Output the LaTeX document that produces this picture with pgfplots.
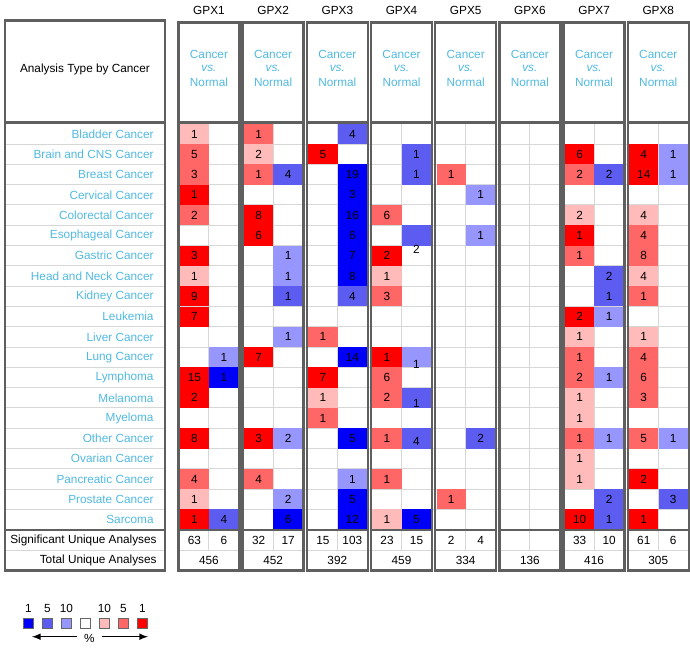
\documentclass[border=0pt]{standalone}
\usepackage{pgfplots}
\pgfplotsset{compat=1.18}
\usepackage{pgfplotstable}
\usepackage{fontspec}
\setmainfont{Liberation Sans}
\definecolor{cR3}{RGB}{255,0,0}
\definecolor{cR2}{RGB}{255,102,102}
\definecolor{cR1}{RGB}{255,186,186}
\definecolor{cB3}{RGB}{0,0,250}
\definecolor{cB2}{RGB}{92,92,240}
\definecolor{cB1}{RGB}{150,150,252}
\definecolor{cLab}{RGB}{80,185,225}
\definecolor{cGrid}{RGB}{215,215,215}
\definecolor{cBox}{RGB}{95,95,95}
\newcommand\fs{\fontsize{5.9}{7}\selectfont}
\pgfdeclareplotmark{cell}{\pgfpathrectangle{\pgfpoint{-7.35pt}{-5.05pt}}{\pgfpoint{14.7pt}{10.1pt}}\pgfusepathqfill}

% row: 1 Bladder ... 20 Sarcoma; side: 0 up (red), 1 down (blue)
\pgfplotstableread{
row side cls n dy
1 0 r1 1 0
2 0 r2 5 0
3 0 r2 3 0
4 0 r3 1 0
5 0 r2 2 0
7 0 r3 3 0
8 0 r1 1 0
9 0 r3 9 0
10 0 r3 7 0
13 0 r3 15 0
14 0 r3 2 0
16 0 r3 8 0
18 0 r2 4 0
19 0 r1 1 0
20 0 r3 1 0
12 1 b1 1 0
13 1 b3 1 0
20 1 b2 4 0
}\gA
\pgfplotstableread{
row side cls n dy
1 0 r2 1 0
2 0 r1 2 0
3 0 r2 1 0
5 0 r3 8 0
6 0 r3 6 0
12 0 r3 7 0
16 0 r3 3 0
18 0 r2 4 0
3 1 b2 4 0
7 1 b1 1 0
8 1 b1 1 0
9 1 b2 1 0
11 1 b1 1 0
16 1 b1 2 0
19 1 b1 2 0
20 1 b3 6 0
}\gB
\pgfplotstableread{
row side cls n dy
2 0 r3 5 0
11 0 r2 1 0
13 0 r3 7 0
14 0 r1 1 0
15 0 r2 1 0
1 1 b2 4 0
3 1 b3 19 0
4 1 b3 3 0
5 1 b3 16 0
6 1 b3 6 0
7 1 b3 7 0
8 1 b3 8 0
9 1 b2 4 0
12 1 b3 14 0
16 1 b3 5 0
18 1 b1 1 0
19 1 b3 5 0
20 1 b3 12 0
}\gC
\pgfplotstableread{
row side cls n dy
5 0 r2 6 0
7 0 r3 2 0
8 0 r1 1 0
9 0 r2 3 0
12 0 r3 1 0
13 0 r2 6 0
14 0 r2 2 0
16 0 r2 1 0
18 0 r2 1 0
20 0 r1 1 0
2 1 b2 1 0
3 1 b2 1 0
6 1 b2 2 14
12 1 b1 1 7.5
14 1 b2 1 5.5
16 1 b2 4 3.5
20 1 b3 5 0
}\gD
\pgfplotstableread{
row side cls n dy
3 0 r2 1 0
19 0 r2 1 0
4 1 b1 1 0
6 1 b1 1 0
16 1 b2 2 0
}\gE
\pgfplotstableread{
row side cls n dy
2 0 r3 6 0
3 0 r2 2 0
5 0 r1 2 0
6 0 r3 1 0
7 0 r2 1 0
10 0 r3 2 0
11 0 r1 1 0
12 0 r2 1 0
13 0 r2 2 0
14 0 r1 1 0
15 0 r1 1 0
16 0 r2 1 0
17 0 r1 1 0
18 0 r1 1 0
20 0 r3 10 0
3 1 b2 2 0
8 1 b2 2 0
9 1 b2 1 0
10 1 b1 1 0
13 1 b1 1 0
16 1 b1 1 0
19 1 b2 2 0
20 1 b2 1 0
}\gG
\pgfplotstableread{
row side cls n dy
2 0 r3 4 0
3 0 r3 14 0
5 0 r1 4 0
6 0 r2 4 0
7 0 r2 8 0
8 0 r1 4 0
9 0 r2 1 0
11 0 r1 1 0
12 0 r2 4 0
13 0 r2 6 0
14 0 r2 3 0
16 0 r2 5 0
18 0 r3 2 0
20 0 r3 1 0
2 1 b1 1 0
3 1 b1 1 0
16 1 b1 1 0
19 1 b2 3 0
}\gH

\pgfplotsset{cellplot/.style={scatter, only marks, mark=cell,
  point meta=explicit symbolic,
  scatter/classes={r1={fill=cR1},r2={fill=cR2},r3={fill=cR3},b1={fill=cB1},b2={fill=cB2},b3={fill=cB3}}},
  labplot/.style={only marks, mark=none, point meta=explicit symbolic,
  nodes near coords,
  every node near coord/.style={anchor=center, text=black, font=\fs, inner sep=0pt}}}
\newcommand\genecells[2]{%
\addplot[cellplot] table[x expr={194.5+64.2*(#1-1)+29.5*\thisrow{side}}, y expr={110.85+20.3*\thisrow{row}}, meta=cls]{#2};
\addplot[labplot] table[x expr={194.5+64.2*(#1-1)+29.5*\thisrow{side}}, y expr={110.85+20.3*\thisrow{row}+\thisrow{dy}}, meta=n]{#2};}

\begin{document}
\begin{tikzpicture}
% light grid (under the cells)
\begin{scope}[shift={(0,322.5pt)}, x=0.5pt, y=-0.5pt]
\foreach \k in {1,...,19} {
  \draw[cGrid, line width=0.5pt] (5,{121+20.3*\k}) -- (165,{121+20.3*\k});
  \draw[cGrid, line width=0.5pt] (178,{121+20.3*\k}) -- (688,{121+20.3*\k});
}
\draw[cGrid, line width=0.5pt] (5,548) -- (165,548);
\draw[cGrid, line width=0.5pt] (178,548) -- (688,548);
\foreach \g in {0,...,7} {
  \draw[cGrid, line width=0.5pt] ({178+64.2*\g+31},119) -- ({178+64.2*\g+31},548);
}
\end{scope}
\begin{axis}[scale only axis, width=345pt, height=322.5pt,
  xmin=0, xmax=690, ymin=0, ymax=645, y dir=reverse,
  hide axis, clip=false, at={(0,0)}, anchor=south west]
\path (rel axis cs:0,0) rectangle (rel axis cs:1,1);
\genecells{1}{\gA}
\genecells{2}{\gB}
\genecells{3}{\gC}
\genecells{4}{\gD}
\genecells{5}{\gE}
\genecells{7}{\gG}
\genecells{8}{\gH}
\end{axis}
% boxes and texts
\begin{scope}[shift={(0,322.5pt)}, x=0.5pt, y=-0.5pt, font=\fs]
\draw[cBox, line width=1.25pt] (5,17.5) rectangle (165,119.5);
\draw[cBox, line width=1.25pt] (5,119.5) rectangle (165,527.5);
\draw[cBox, line width=1.25pt] (5,527.5) rectangle (165,568);
\node at (85,67) {Analysis Type by Cancer};
\foreach \lab [count=\r] in {Bladder Cancer, Brain and CNS Cancer, Breast Cancer, Cervical Cancer, Colorectal Cancer, Esophageal Cancer, Gastric Cancer, Head and Neck Cancer, Kidney Cancer, Leukemia, Liver Cancer, Lung Cancer, Lymphoma, Melanoma, Myeloma, Other Cancer, Ovarian Cancer, Pancreatic Cancer, Prostate Cancer, Sarcoma}
  \node[anchor=east, text=cLab, inner sep=0pt] at (154,{110.85+20.3*\r}) {\lab};
\node[anchor=east, inner sep=0pt] at (157,538) {Significant Unique Analyses};
\node[anchor=east, inner sep=0pt] at (157,558) {Total Unique Analyses};
\foreach \g/\gn/\sa/\sb/\tot in {0/GPX1/63/6/456, 1/GPX2/32/17/452, 2/GPX3/15/103/392, 3/GPX4/23/15/459, 4/GPX5/2/4/334, 5/GPX6//{}/136, 6/GPX7/33/10/416, 7/GPX8/61/6/305} {
  \pgfmathsetmacro\L{178+64.2*\g}
  \draw[cBox, line width=1.25pt] (\L+0.5,19.5) rectangle (\L+61.5,119.5);
  \draw[cBox, line width=1.25pt] (\L+0.5,119.5) rectangle (\L+61.5,527.5);
  \draw[cBox, line width=1.25pt] (\L+0.5,527.5) rectangle (\L+61.5,568);
  \node at (\L+31,8) {\gn};
  \node[text=cLab] at (\L+31,52) {Cancer};
  \node[text=cLab] at (\L+31,65.5) {\itshape vs.};
  \node[text=cLab] at (\L+31,79) {Normal};
  \node at (\L+16.5,538) {\sa};
  \node at (\L+46,538) {\sb};
  \node at (\L+31,558) {\tot};
}
% legend
\foreach \c/\t [count=\i from 0] in {cB3/1, cB2/5, cB1/10, white/{}, cR1/10, cR2/5, cR3/1} {
  \draw[fill=\c, draw=black!60, line width=0.6pt] ({23.7+19*\i},616) rectangle ({33.3+19*\i},626);
  \node at ({28.5+19*\i},606) {\t};
}
\draw[-latex, line width=0.5pt] (77,634) -- (32,634);
\draw[-latex, line width=0.5pt] (102,634) -- (148,634);
\node at (89.5,636) {\%};
\end{scope}
\end{tikzpicture}
\end{document}
